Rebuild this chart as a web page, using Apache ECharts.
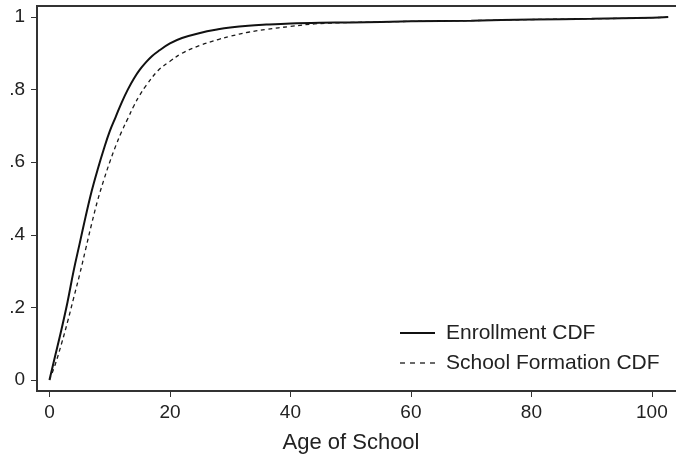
<!DOCTYPE html>
<html>
<head>
<meta charset="utf-8">
<script src="https://cdn.jsdelivr.net/npm/echarts@6/dist/echarts.min.js"></script>
<style>
html,body{margin:0;padding:0;background:#fff;}
#chart{width:676px;height:458px;}
</style>
</head>
<body>
<div id="chart"></div>
<script>
var enrollmentX = [0,1,2,3,4,5,6,7,8,9,10,11,12,13,14,15,16,17,18,20,22,25,28,30,33,36,40,45,50,60,70,80,90,100,102.7];
var enrollmentY = [0,0.07,0.14,0.215,0.3,0.375,0.45,0.52,0.58,0.635,0.685,0.725,0.765,0.8,0.83,0.855,0.875,0.892,0.905,0.927,0.942,0.956,0.966,0.971,0.976,0.979,0.982,0.984,0.985,0.988,0.99,0.993,0.995,0.998,1.0];
var formationX = [0,1,2,3,4,5,6,7,8,9,10,11,12,13,14,15,16,18,20,22,25,28,30,33,36,40,44,48,50,60,70,80,90,100,102.7];
var formationY = [0,0.045,0.1,0.16,0.225,0.29,0.36,0.43,0.495,0.55,0.6,0.645,0.685,0.72,0.755,0.785,0.81,0.852,0.878,0.9,0.922,0.938,0.947,0.958,0.966,0.974,0.981,0.984,0.985,0.988,0.99,0.993,0.995,0.998,1.0];
var seriesNames = ['Enrollment CDF','School Formation CDF'];
var xTickValues = [0,20,40,60,80,100];
var yTickValues = [0,0.2,0.4,0.6,0.8,1];
var yTickLabels = ['0','.2','.4','.6','.8','1'];
var xAxisTitle = 'Age of School';

function pairs(xs, ys){ return xs.map(function(x,i){ return [x, ys[i]]; }); }

var chart = echarts.init(document.getElementById('chart'), null, {renderer:'canvas'});
var txt = '#222';
var font = 'Liberation Sans, Arial, Helvetica, sans-serif';
var solidStyle = {color:'#111',width:2,type:'solid'};
var dashStyle = {color:'#1a1a1a',width:1.3,type:[4,3.5]};
chart.setOption({
  animation:false,
  backgroundColor:'#fff',
  grid:{left:37,right:-3,top:6,bottom:67,outerBoundsMode:'none',containLabel:false,show:true,borderColor:'#333',borderWidth:2,backgroundColor:'transparent'},
  xAxis:{
    type:'value', min:-2.07, max:104.5,
    axisLine:{show:true,onZero:false,lineStyle:{color:'#333',width:2}},
    axisTick:{show:true,length:6,customValues:xTickValues,lineStyle:{color:'#333',width:1}},
    axisLabel:{customValues:xTickValues,color:txt,fontSize:19,fontFamily:font,margin:12},
    splitLine:{show:false},
    name:xAxisTitle, nameLocation:'middle', nameGap:41,
    nameTextStyle:{color:txt,fontSize:22,fontFamily:font,padding:[0,14,0,0]}
  },
  yAxis:{
    type:'value', min:-0.0303, max:1.0303,
    axisLine:{show:true,onZero:false,lineStyle:{color:'#333',width:2}},
    axisTick:{show:true,length:6,customValues:yTickValues,lineStyle:{color:'#333',width:1}},
    axisLabel:{customValues:yTickValues,color:txt,fontSize:19,fontFamily:font,margin:12,
      formatter:function(v){ var i=yTickValues.findIndex(function(t){return Math.abs(t-v)<1e-6;}); return i>=0?yTickLabels[i]:''; }},
    splitLine:{show:false}
  },
  graphic:[
    {type:'line',shape:{x1:400,y1:333,x2:435,y2:333},style:{stroke:'#111',lineWidth:2}},
    {type:'text',x:446,y:333,style:{text:seriesNames[0],fill:txt,font:'21px '+font,verticalAlign:'middle'}},
    {type:'line',shape:{x1:400,y1:363,x2:436,y2:363},style:{stroke:'#1a1a1a',lineWidth:1.3,lineDash:[5,5]}},
    {type:'text',x:446,y:363,style:{text:seriesNames[1],fill:txt,font:'21px '+font,verticalAlign:'middle'}}
  ],
  series:[
    {name:seriesNames[0],type:'line',data:pairs(enrollmentX,enrollmentY),smooth:0.4,symbol:'none',
     lineStyle:solidStyle,itemStyle:{color:'#111'}},
    {name:seriesNames[1],type:'line',data:pairs(formationX,formationY),smooth:0.4,symbol:'none',
     lineStyle:dashStyle,itemStyle:{color:'#222'}}
  ]
});
</script>
</body>
</html>
